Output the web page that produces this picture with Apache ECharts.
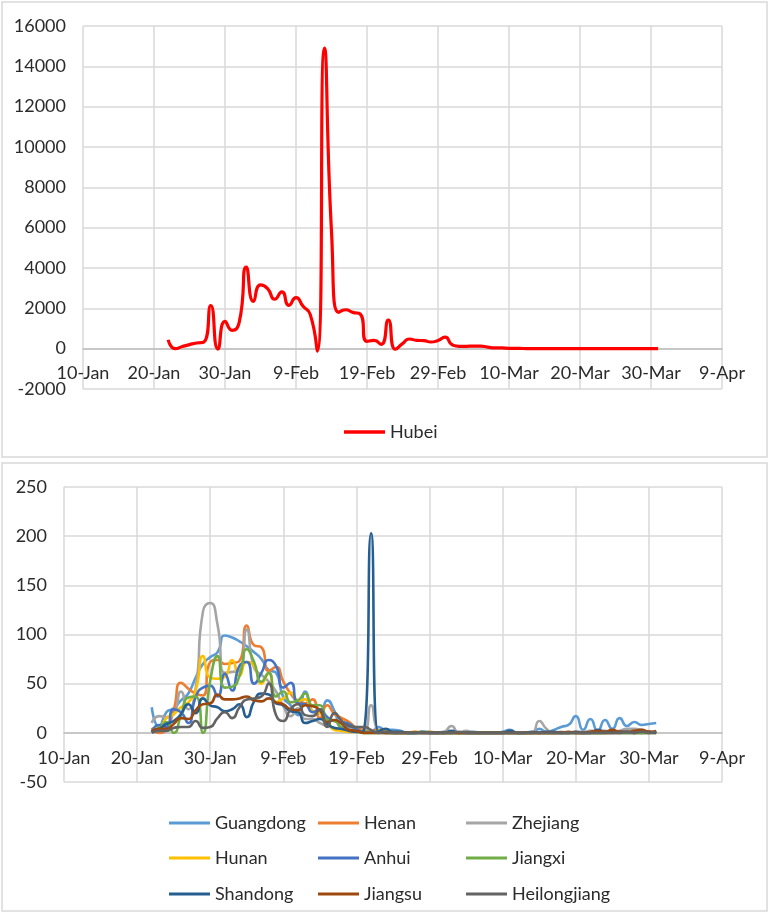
<!DOCTYPE html>
<html>
<head>
<meta charset="utf-8">
<title>Daily new cases</title>
<script src="https://cdn.jsdelivr.net/npm/echarts@6/dist/echarts.min.js"></script>
<style>
  html, body { margin: 0; padding: 0; background: #fff; }
  #chart { width: 770px; height: 914px; }
</style>
</head>
<body>
<div id="chart"></div>
<script>
// daily values from 22-Jan to 31-Mar (70 days)
var startDate = '2020-01-22';
var axisFrom = '2020-01-10';
var xTickLabels = ['10-Jan', '20-Jan', '30-Jan', '9-Feb', '19-Feb', '29-Feb', '10-Mar', '20-Mar', '30-Mar', '9-Apr'];
var topTicks = { min: -2000, max: 16000, step: 2000 };
var bottomTicks = { min: -50, max: 250, step: 50 };

var hubei = [
  444, 0, 105, 200, 280, 320, 2140, -20, 1350, 910,
  1300, 4040, 2340, 3160, 2980, 2450, 2820, 2150, 2530, 2100,
  1700, -120, 14900, 5800, 1800, 1930, 1800, 1730, 360, 410,
  210, 1420, -30, 250, 480, 410, 400, 330, 410,
  570, 190, 115, 115, 130, 125, 75, 40, 35, 17,
  13, 8, 5, 4, 4, 4, 1, 1, 0, 0,
  0, 0, 0, 0, 0, 0, 0, 0, 0, 0, 0
];

var provinces = ['Guangdong', 'Henan', 'Zhejiang', 'Hunan', 'Anhui', 'Jiangxi', 'Shandong', 'Jiangsu', 'Heilongjiang'];
var provinceColors = ['#5B9BD5', '#ED7D31', '#A5A5A5', '#FFC000', '#4472C4', '#70AD47', '#255E91', '#9E480E', '#636363'];

var guangdong = [
  26, 6, 21, 25, 33, 40, 56, 70, 77, 82,
  99, 97, 93, 88, 82, 75, 64, 61, 36, 28,
  18, 42, 22, 20, 33, 22, 6, 6, 3, 1,
  1, 6, 3, 3, 2, 0, 0, 1, 1,
  0, 1, 0, 0, 1, 1, 0, 0, 0, 1,
  3, 0, 0, 0, 4, 1, 3, 6, 8, 17,
  3, 14, 2, 13, 4, 15, 7, 11, 8, 9, 10
];
var henan = [
  5, 0, 4, 23, 51, 45, 40, 38, 72, 74,
  70, 71, 73, 109, 89, 87, 63, 67, 52, 40,
  32, 30, 34, 15, 28, 19, 15, 11, 5, 3,
  2, 3, 1, 0, 0, 0, 1, 0, 0,
  0, 0, 0, 0, 0, 0, 0, 0, 0, 0,
  0, 0, 0, 0, 0, 0, 0, 0, 0, 0,
  0, 0, 0, 0, 0, 1, 0, 1, 0, 1, 0
];
var zhejiang = [
  10, 17, 16, 19, 42, 24, 45, 123, 132, 110,
  61, 62, 63, 105, 66, 59, 52, 42, 27, 17,
  25, 14, 14, 10, 7, 5, 4, 1, 2, 1,
  28, 2, 0, 0, 0, 0, 0, 0, 0,
  0, 1, 7, 0, 2, 0, 0, 0, 0, 0,
  0, 0, 0, 0, 12, 4, 0, 1, 0, 1,
  1, 2, 2, 2, 1, 2, 4, 4, 3, 1, 0
];
var hunan = [
  4, 5, 15, 19, 26, 31, 43, 78, 56, 55,
  57, 74, 58, 72, 68, 50, 61, 31, 35, 41,
  33, 34, 22, 20, 13, 3, 2, 1, 1, 2,
  1, 2, 3, 0, 0, 0, 1, 0, 1,
  0, 0, 0, 0, 0, 0, 0, 0, 0, 0,
  0, 0, 0, 0, 0, 0, 0, 0, 0, 0,
  0, 0, 0, 0, 0, 0, 0, 0, 0, 0, 0
];
var anhui = [
  1, 8, 6, 24, 21, 10, 36, 46, 48, 37,
  60, 43, 68, 72, 50, 61, 74, 68, 46, 51,
  30, 29, 21, 24, 16, 12, 11, 9, 4, 1,
  1, 1, 0, 0, 0, 0, 0, 1, 0,
  0, 0, 0, 0, 0, 0, 0, 0, 0, 0,
  0, 0, 0, 0, 0, 0, 0, 0, 0, 0,
  0, 0, 0, 0, 0, 0, 0, 0, 0, 0, 0
];
var jiangxi = [
  2, 5, 11, 0, 18, 36, 37, 0, 53, 78,
  46, 47, 58, 85, 72, 52, 61, 37, 42, 31,
  33, 40, 28, 28, 13, 12, 5, 3, 1, 0,
  0, 0, 0, 0, 0, 0, 0, 1, 0,
  0, 0, 0, 0, 0, 0, 0, 0, 0, 0,
  0, 0, 0, 0, 0, 0, 0, 0, 0, 0,
  0, 0, 0, 0, 1, 0, 0, 0, 0, 0, 0
];
var shandong = [
  2, 4, 9, 12, 19, 29, 20, 35, 28, 26,
  22, 24, 29, 16, 32, 40, 39, 30, 28, 22,
  21, 10, 12, 14, 9, 5, 4, 2, 1, 2,
  203, 1, 4, 1, 1, 0, 0, 0, 0,
  0, 0, 2, 0, 0, 0, 0, 0, 0, 0,
  2, 0, 0, 1, 0, 1, 1, 0, 0, 1,
  0, 0, 3, 1, 1, 1, 1, 0, 2, 1, 0
];
var jiangsu = [
  1, 4, 4, 9, 15, 14, 23, 29, 30, 39,
  34, 34, 35, 37, 33, 32, 35, 31, 29, 24,
  23, 28, 27, 23, 11, 13, 9, 3, 2, 0,
  0, 0, 0, 0, 0, 0, 0, 0, 0,
  0, 0, 0, 0, 0, 0, 0, 0, 0, 0,
  0, 0, 0, 0, 0, 0, 0, 0, 1, 0,
  0, 1, 2, 1, 3, 1, 1, 2, 3, 1, 2
];
var heilongjiang = [
  0, 2, 2, 5, 6, 6, 12, 5, 6, 15,
  21, 15, 26, 34, 35, 37, 50, 18, 12, 24,
  29, 18, 17, 24, 6, 20, 12, 7, 6, 6,
  3, 0, 1, 0, 0, 0, 0, 0, 0,
  0, 0, 0, 1, 0, 0, 0, 0, 0, 0,
  0, 0, 0, 0, 0, 0, 0, 0, 0, 0,
  0, 0, 0, 0, 0, 0, 1, 0, 1, 0, 1
];
var provinceData = [guangdong, henan, zhejiang, hunan, anhui, jiangxi, shandong, jiangsu, heilongjiang];

var chart = echarts.init(document.getElementById('chart'));

var firstIdx = (Date.parse(startDate) - Date.parse(axisFrom)) / 86400000;
function toPoints(values) {
  return values.map(function (v, i) { return [firstIdx + i, v]; });
}

var font = 'Lato';
var fontSize = 18;
var textColor = '#2b2b2b';
var gridColor = '#D9D9D9';

// grid boxes; the x axis sits on the zero line, so it is pulled up by an offset
var grids = [
  { left: 83, right: 48, top: 26, height: 363 },
  { left: 64, right: 48, top: 487, height: 295 }
];
var ticks = [topTicks, bottomTicks];

function zeroOffset(i) {
  var t = ticks[i];
  return -grids[i].height * (0 - t.min) / (t.max - t.min);
}

function xAxisFor(gridIndex) {
  return {
    type: 'value',
    gridIndex: gridIndex,
    min: 0,
    max: 90,
    interval: 10,
    offset: zeroOffset(gridIndex),
    axisLine: { onZero: false, lineStyle: { color: '#BFBFBF', width: 1.5 } },
    axisTick: { show: false },
    axisLabel: {
      margin: 16,
      color: textColor,
      fontFamily: font,
      fontSize: fontSize,
      formatter: function (v) { return xTickLabels[v / 10]; }
    },
    splitLine: { show: true, lineStyle: { color: gridColor, width: 1.5 } }
  };
}

function yAxisFor(gridIndex) {
  var t = ticks[gridIndex];
  return {
    type: 'value',
    gridIndex: gridIndex,
    min: t.min,
    max: t.max,
    interval: t.step,
    axisLine: { show: false },
    axisTick: { show: false },
    axisLabel: {
      margin: 17,
      color: textColor,
      fontFamily: font,
      fontSize: fontSize,
      formatter: function (v) { return String(v); }
    },
    splitLine: { show: true, lineStyle: { color: gridColor, width: 1.5 } }
  };
}

var series = [{
  name: 'Hubei',
  type: 'line',
  xAxisIndex: 0,
  yAxisIndex: 0,
  data: toPoints(hubei),
  smooth: 0.6,
  symbol: 'none',
  color: '#FF0000',
  lineStyle: { width: 3.2 }
}];

function legendFor(name, left, top, thick) {
  return {
    data: [name],
    left: left,
    top: top,
    padding: 0,
    icon: 'rect',
    itemWidth: 41,
    itemHeight: thick,
    selectedMode: false,
    textStyle: { color: textColor, fontFamily: font, fontSize: fontSize }
  };
}

var legends = [legendFor('Hubei', 344, 423, 3.5)];

var legendCols = [169, 318, 466];
var legendRows = [814, 849, 885];

provinces.forEach(function (name, i) {
  series.push({
    name: name,
    type: 'line',
    xAxisIndex: 1,
    yAxisIndex: 1,
    data: toPoints(provinceData[i]),
    smooth: 0.6,
    symbol: 'none',
    color: provinceColors[i],
    lineStyle: { width: 2.6 }
  });
  legends.push(legendFor(name, legendCols[i % 3], legendRows[Math.floor(i / 3)], 3));
});

var option = {
  animation: false,
  backgroundColor: '#ffffff',
  textStyle: { fontFamily: font },
  graphic: [
    { type: 'rect', shape: { x: 2, y: 2, width: 765, height: 455 }, style: { fill: 'none', stroke: '#D9D9D9', lineWidth: 1.5 }, z: -10 },
    { type: 'rect', shape: { x: 2, y: 463, width: 765, height: 448 }, style: { fill: 'none', stroke: '#D9D9D9', lineWidth: 1.5 }, z: -10 }
  ],
  grid: grids.map(function (g) {
    return { left: g.left, right: g.right, top: g.top, height: g.height, outerBoundsMode: 'none' };
  }),
  xAxis: [xAxisFor(0), xAxisFor(1)],
  yAxis: [yAxisFor(0), yAxisFor(1)],
  legend: legends,
  series: series
};

chart.setOption(option);
</script>
</body>
</html>
